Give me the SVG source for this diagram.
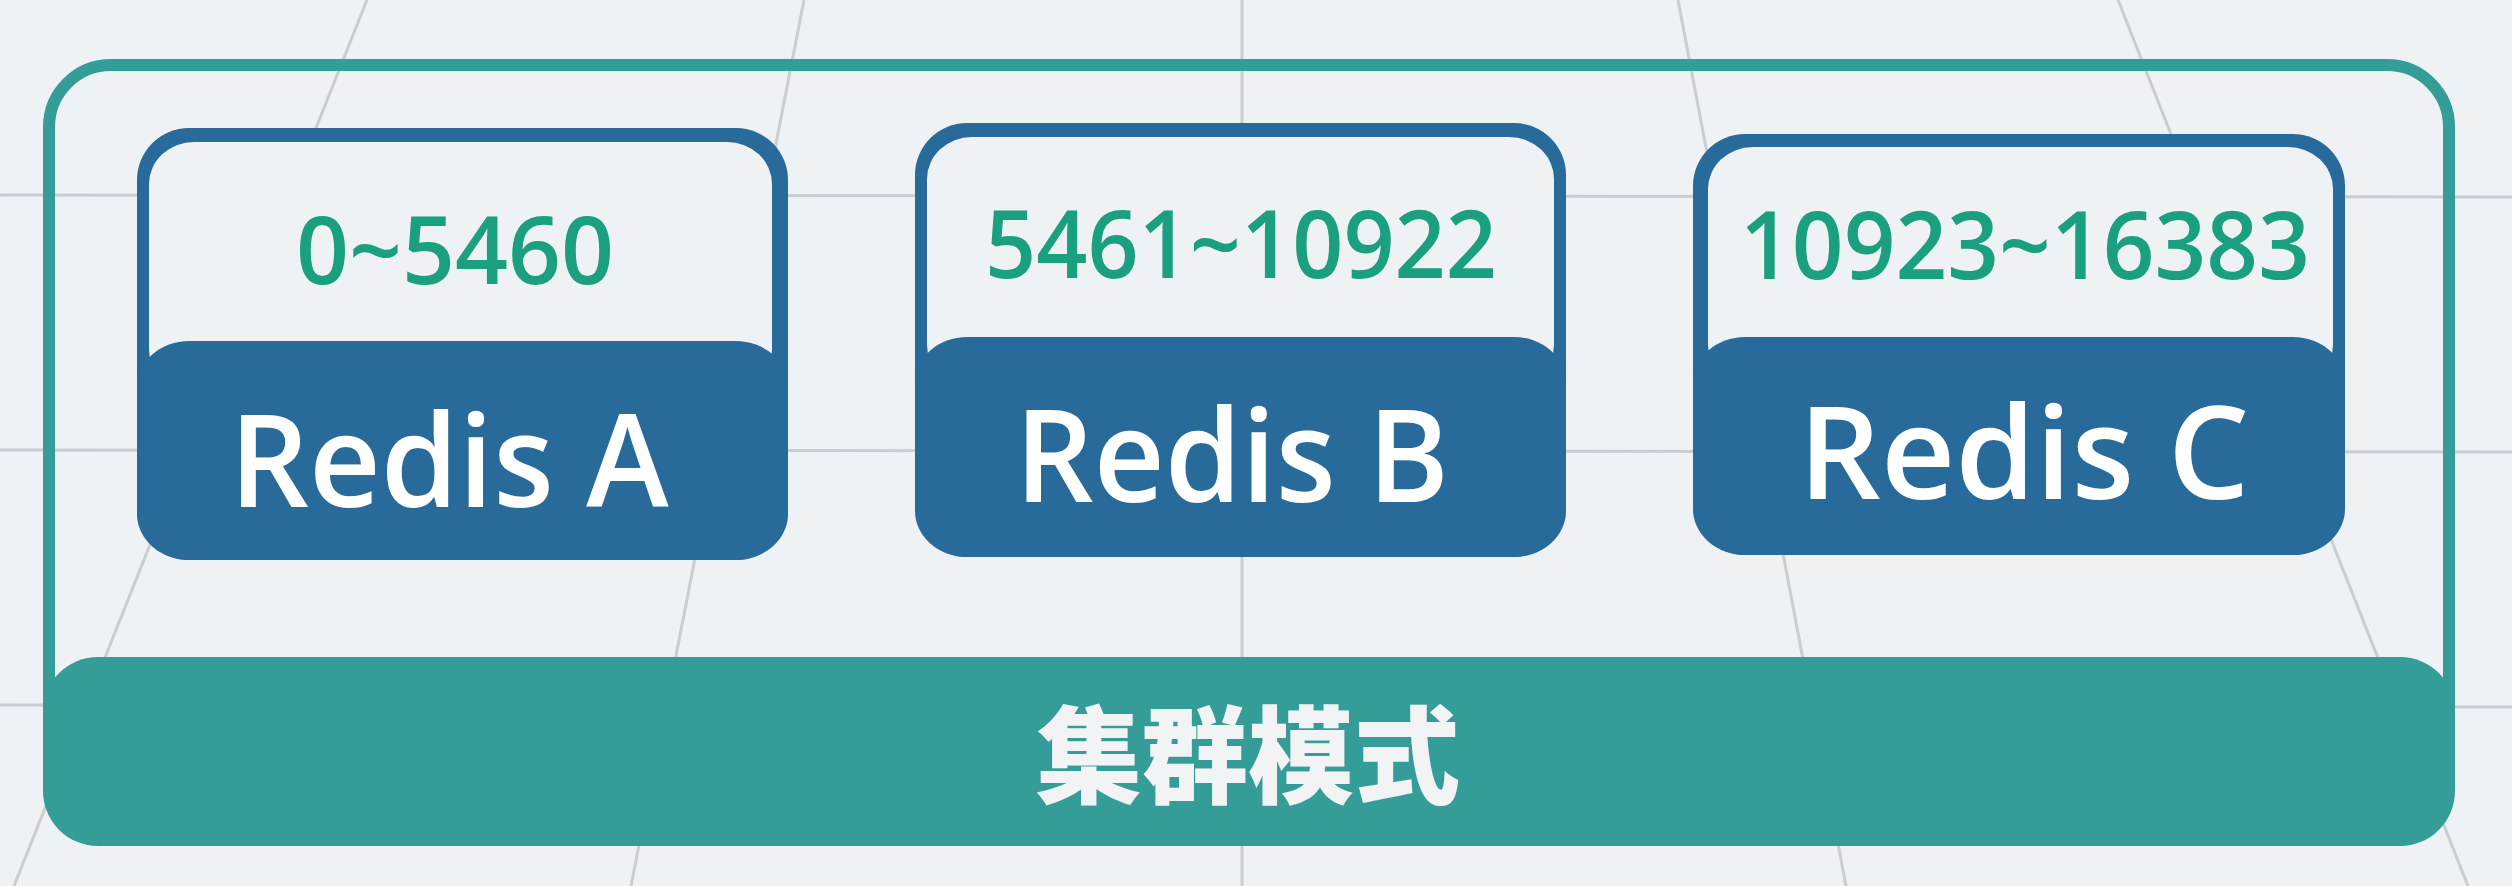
<svg xmlns="http://www.w3.org/2000/svg" width="2512" height="886" viewBox="0 0 2512 886">
  <style>
    .grid { stroke: #c9cdd1; stroke-width: 3; fill: none; }
    .card { fill: #286b9a; }
    .inner { fill: #eef2f4; }
    .range { font-family: "Open Sans", "Noto Sans", sans-serif; font-weight: 600; font-size: 94px; fill: #1aa07f; text-anchor: middle; }
    .name { font-family: "Open Sans", "Noto Sans", sans-serif; font-weight: 600; font-size: 128px; fill: #ffffff; text-anchor: middle; }
    .title { font-family: "Noto Sans CJK SC", sans-serif; font-weight: 900; font-size: 106px; fill: #f1f3f5; text-anchor: middle; }
  </style>
  <rect x="0" y="0" width="2512" height="886" fill="#eef2f4"/>
  <g id="background-grid">
    <line class="grid" x1="0" y1="195" x2="2512" y2="197"/>
    <line class="grid" x1="0" y1="450" x2="2512" y2="452"/>
    <line class="grid" x1="0" y1="705" x2="2512" y2="707"/>
    <line class="grid" x1="367" y1="0" x2="14" y2="886"/>
    <line class="grid" x1="804" y1="0" x2="631" y2="886"/>
    <line class="grid" x1="1242" y1="0" x2="1242" y2="886"/>
    <line class="grid" x1="1678" y1="0" x2="1846" y2="886"/>
    <line class="grid" x1="2118" y1="0" x2="2468" y2="886"/>
  </g>
  <g id="cluster">
    <rect x="49" y="65" width="2400" height="740" rx="62" ry="62" fill="none" stroke="#359d98" stroke-width="12"/>
    <rect x="43" y="657" width="2412" height="189" rx="55" ry="55" fill="#359d98"/>
    <text class="title" x="1248" y="795">集群模式</text>
  </g>
  <g id="redis-a">
    <rect class="card" x="137" y="128" width="651" height="432" rx="52" ry="52"/>
    <rect class="inner" x="149" y="142" width="623" height="250" rx="45" ry="42"/>
    <rect class="card" x="137" y="341" width="651" height="219" rx="52" ry="46"/>
    <text class="range" x="455" y="284" textLength="318" lengthAdjust="spacingAndGlyphs">0~5460</text>
    <text class="name" x="449" y="507" textLength="439" lengthAdjust="spacingAndGlyphs">Redis A</text>
  </g>
  <g id="redis-b">
    <rect class="card" x="915" y="123" width="651" height="434" rx="52" ry="52"/>
    <rect class="inner" x="927" y="137" width="627" height="250" rx="45" ry="42"/>
    <rect class="card" x="915" y="337" width="651" height="220" rx="52" ry="46"/>
    <text class="range" x="1241" y="278" textLength="512" lengthAdjust="spacingAndGlyphs">5461~10922</text>
    <text class="name" x="1232" y="502" textLength="434" lengthAdjust="spacingAndGlyphs">Redis B</text>
  </g>
  <g id="redis-c">
    <rect class="card" x="1693" y="134" width="652" height="421" rx="52" ry="52"/>
    <rect class="inner" x="1708" y="147" width="625" height="240" rx="45" ry="42"/>
    <rect class="card" x="1693" y="337" width="652" height="218" rx="52" ry="46"/>
    <text class="range" x="2025" y="279" textLength="570" lengthAdjust="spacingAndGlyphs">10923~16383</text>
    <text class="name" x="2024" y="499" textLength="451" lengthAdjust="spacingAndGlyphs">Redis C</text>
  </g>
  <g id="connectors"></g>
</svg>
